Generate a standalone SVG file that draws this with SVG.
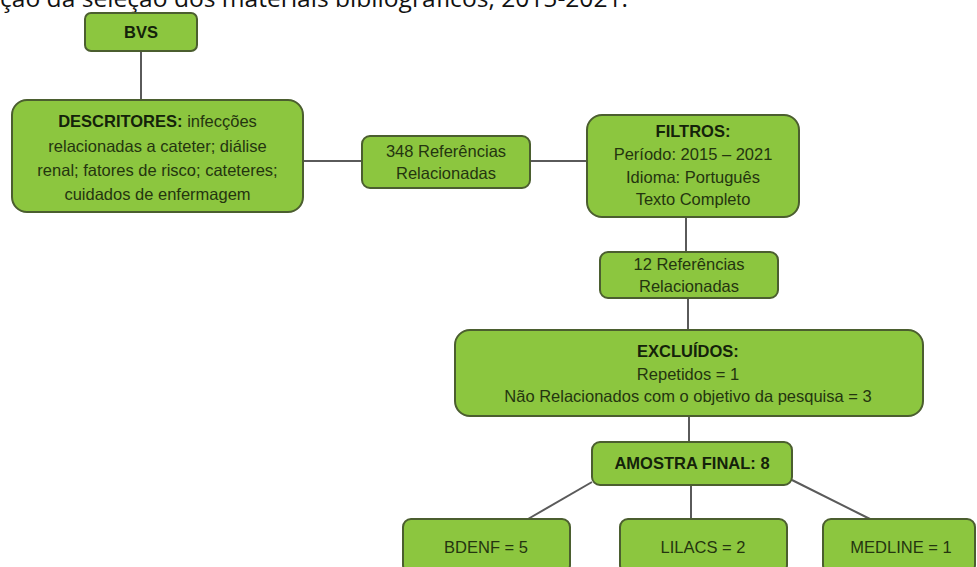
<svg xmlns="http://www.w3.org/2000/svg" width="977" height="567" viewBox="0 0 977 567">
<style>
.title{font-family:"Open Sans","Liberation Sans",sans-serif;font-size:24px;fill:#111}
.box{fill:#8cc63f;stroke:#4b5e2f;stroke-width:2}
.t{font-family:"Liberation Sans",Arial,sans-serif;font-size:16.5px;fill:#24350f;text-anchor:middle}
.b{font-weight:bold;fill:#14220a}
.conn line{stroke:#5a5a5a;stroke-width:2}
</style>
<rect width="977" height="567" fill="#ffffff"/>
<text class="title" x="0" y="7" textLength="628" lengthAdjust="spacingAndGlyphs">ção da seleção dos materiais bibliográficos, 2015-2021.</text>
<g id="connectors" class="conn">
<line x1="141" y1="51" x2="141" y2="100"/>
<line x1="303" y1="161" x2="362" y2="161"/>
<line x1="530" y1="161" x2="587" y2="161"/>
<line x1="686" y1="217" x2="686" y2="252"/>
<line x1="688" y1="298" x2="688" y2="330"/>
<line x1="689" y1="416" x2="689" y2="442"/>
<line x1="592" y1="482" x2="528" y2="519"/>
<line x1="691" y1="485" x2="691" y2="519"/>
<line x1="792" y1="480" x2="870" y2="519"/>
</g>
<g id="bvs">
<rect class="box" x="85" y="13" width="112" height="38" rx="6"/>
<text class="t b" x="141" y="38">BVS</text>
</g>
<g id="descritores">
<rect class="box" x="12" y="100" width="291" height="112" rx="15"/>
<text class="t" x="157.5" y="127"><tspan class="b">DESCRITORES:</tspan> infecções</text>
<text class="t" x="157.5" y="151.5">relacionadas a cateter; diálise</text>
<text class="t" x="157.5" y="176">renal; fatores de risco; cateteres;</text>
<text class="t" x="157.5" y="200">cuidados de enfermagem</text>
</g>
<g id="ref348">
<rect class="box" x="362" y="136" width="168" height="52" rx="8"/>
<text class="t" x="446" y="157">348 Referências</text>
<text class="t" x="446" y="179">Relacionadas</text>
</g>
<g id="filtros">
<rect class="box" x="587" y="115" width="212" height="102" rx="15"/>
<text class="t b" x="693" y="137">FILTROS:</text>
<text class="t" x="693" y="160">Período: 2015 – 2021</text>
<text class="t" x="693" y="182.5">Idioma: Português</text>
<text class="t" x="693" y="205">Texto Completo</text>
</g>
<g id="ref12">
<rect class="box" x="600" y="252" width="178" height="46" rx="8"/>
<text class="t" x="689" y="270">12 Referências</text>
<text class="t" x="689" y="292">Relacionadas</text>
</g>
<g id="excluidos">
<rect class="box" x="455" y="330" width="468" height="86" rx="15"/>
<text class="t b" x="688" y="357">EXCLUÍDOS:</text>
<text class="t" x="688" y="379.5">Repetidos = 1</text>
<text class="t" x="688" y="402">Não Relacionados com  o objetivo da pesquisa = 3</text>
</g>
<g id="amostra">
<rect class="box" x="592" y="442" width="200" height="43" rx="8"/>
<text class="t b" x="692" y="469">AMOSTRA FINAL: 8</text>
</g>
<g id="bdenf">
<rect class="box" x="403" y="519" width="167" height="54" rx="8"/>
<text class="t" x="486" y="553">BDENF = 5</text>
</g>
<g id="lilacs">
<rect class="box" x="620" y="519" width="167" height="54" rx="8"/>
<text class="t" x="703" y="553">LILACS = 2</text>
</g>
<g id="medline">
<rect class="box" x="823" y="519" width="152" height="54" rx="8"/>
<text class="t" x="901" y="553">MEDLINE = 1</text>
</g>
</svg>
